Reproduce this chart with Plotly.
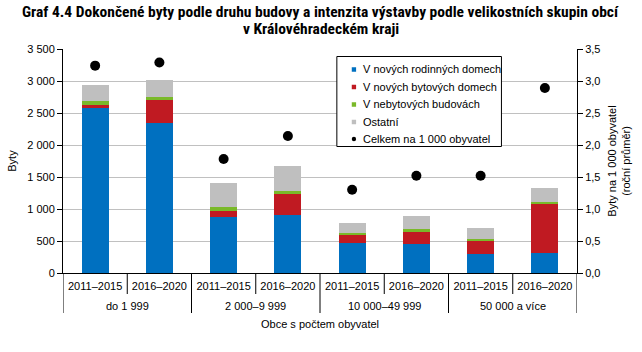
import plotly.graph_objects as go

groups = ["do 1 999", "2 000–9 999", "10 000–49 999", "50 000 a více"]
periods = ["2011–2015", "2016–2020"]

rodinne = [2585, 2345, 873, 904, 465, 455, 298, 309]
bytove = [42, 366, 94, 345, 141, 183, 214, 783]
nebytove = [63, 42, 62, 31, 16, 47, 16, 16]
ostatni = [250, 266, 376, 392, 157, 203, 172, 219]
na_1000 = [3.24, 3.29, 1.78, 2.14, 1.30, 1.52, 1.52, 2.89]

series_names = ["V nových rodinných domech", "V nových bytových domech", "V nebytových budovách", "Ostatní"]
dot_name = "Celkem na 1 000 obyvatel"
colors = ["#0070C0", "#C01A22", "#7AB929", "#BFBFBF"]

W, H = 642, 352
L, R, T, B = 53, 55, 49, 79
PW, PH = W - L - R, H - T - B


def px(xp):
    return (xp - L) / PW


def py(yp):
    return (H - B - yp) / PH


n = len(groups) * len(periods)
xpos = list(range(n))
x_per = [p for _ in groups for p in periods]

font_main = "Liberation Sans, Arial, sans-serif"
fig = go.Figure()
for name, vals, col in zip(series_names, [rodinne, bytove, nebytove, ostatni], colors):
    fig.add_trace(go.Bar(x=xpos, y=vals, name=name, showlegend=False,
                         marker=dict(color=col, line=dict(width=0))))
fig.add_trace(go.Scatter(x=xpos, y=na_1000, name=dot_name, mode="markers",
                         marker=dict(color="black", size=10), yaxis="y2", showlegend=False))

shapes = []
annotations = []
# small ticks between periods
for i in range(len(groups)):
    xb = i * len(periods) + 0.5
    shapes.append(dict(type="line", xref="x", yref="paper", x0=xb, x1=xb, y0=0, y1=-21 / PH,
                       line=dict(color="black", width=1)))
# group dividers
for i in range(len(groups) + 1):
    xb = i * len(periods) - 0.5
    shapes.append(dict(type="line", xref="x", yref="paper", x0=xb, x1=xb, y0=0, y1=-40 / PH,
                       line=dict(color="black", width=1)))
for i, g in enumerate(groups):
    annotations.append(dict(text=g, x=i * len(periods) + 0.5, xref="x", y=py(306), yref="paper",
                            showarrow=False, xanchor="center", yanchor="middle", font=dict(size=11)))
annotations.append(dict(text="Obce s počtem obyvatel", x=0.5, xref="paper", y=py(324), yref="paper",
                        showarrow=False, xanchor="center", yanchor="middle", font=dict(size=11)))

# title
title_font = dict(family="Roboto Condensed, DejaVu Sans Condensed, Liberation Sans Narrow, sans-serif",
                  size=15.5, color="black")
annotations.append(dict(text="<b>Graf 4.4 Dokončené byty podle druhu budovy a intenzita výstavby podle velikostních skupin obcí</b>",
                        x=px(321), xref="paper", y=py(12), yref="paper", showarrow=False,
                        xanchor="center", yanchor="middle", font=title_font))
annotations.append(dict(text="<b>v Královéhradeckém kraji</b>",
                        x=px(321), xref="paper", y=py(29), yref="paper", showarrow=False,
                        xanchor="center", yanchor="middle", font=title_font))

# legend box
shapes.append(dict(type="rect", xref="paper", yref="paper", x0=px(337.5), x1=px(508.5), y0=py(56.5), y1=py(146.5),
                   line=dict(color="black", width=1), fillcolor="white", layer="above"))
leg_y = [69.5, 87, 104.5, 122, 139]
for name, col, yy in zip(series_names, colors, leg_y):
    shapes.append(dict(type="rect", xref="paper", yref="paper", x0=px(353), x1=px(357.5),
                       y0=py(yy - 2.25), y1=py(yy + 2.25), line=dict(width=0), fillcolor=col, layer="above"))
    annotations.append(dict(text=name, x=px(363), xref="paper", y=py(yy), yref="paper", showarrow=False,
                            xanchor="left", yanchor="middle", font=dict(size=11)))
shapes.append(dict(type="circle", xref="paper", yref="paper", x0=px(353), x1=px(357.5),
                   y0=py(leg_y[4] - 2.25), y1=py(leg_y[4] + 2.25), line=dict(width=0), fillcolor="black", layer="above"))
annotations.append(dict(text=dot_name, x=px(363), xref="paper", y=py(leg_y[4]), yref="paper", showarrow=False,
                        xanchor="left", yanchor="middle", font=dict(size=11)))

fig.update_layout(
    width=W, height=H,
    margin=dict(l=L, r=R, t=T, b=B),
    paper_bgcolor="white", plot_bgcolor="white",
    barmode="stack", bargap=0.58,
    separators=", ",
    showlegend=False,
    font=dict(family=font_main, size=11, color="black"),
    xaxis=dict(
        range=[-0.5, n - 0.5], tickvals=xpos, ticktext=x_per, ticks="",
        showline=True, linecolor="black", linewidth=1, showgrid=False, zeroline=False,
        ticklabelstandoff=3, tickfont=dict(size=11),
    ),
    yaxis=dict(
        range=[0, 3500], dtick=500, tickformat=",d",
        showline=True, linecolor="black", linewidth=1,
        ticks="outside", ticklen=5, tickcolor="black",
        showgrid=True, gridcolor="#C0C0C0", gridwidth=1, zeroline=False,
        title=dict(text="Byty", font=dict(size=11), standoff=8),
    ),
    yaxis2=dict(
        range=[0, 3.5], dtick=0.5, tickformat=".1f", overlaying="y", side="right",
        showline=True, linecolor="black", linewidth=1,
        ticks="outside", ticklen=5, tickcolor="black",
        showgrid=False, zeroline=False,
        title=dict(text="Byty na 1 000 obyvatel<br>(roční průměr)", font=dict(size=11), standoff=8),
    ),
    shapes=shapes,
    annotations=annotations,
)

fig.write_html("out.html")
